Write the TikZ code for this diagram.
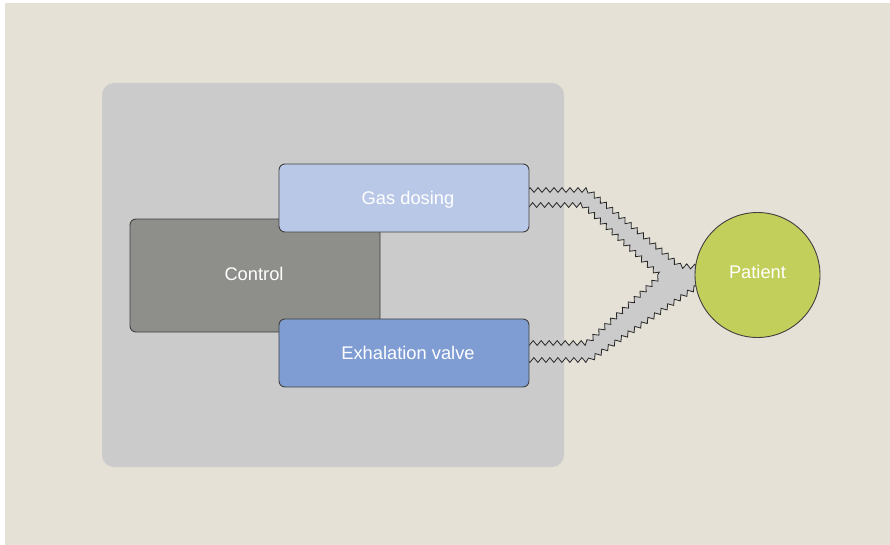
\documentclass[tikz,border=0pt]{standalone}
\usepackage{fontspec}
\setmainfont{Liberation Sans}
\usetikzlibrary{decorations.pathmorphing,calc}
\definecolor{bgbeige}{HTML}{E5E1D6}
\definecolor{contgray}{HTML}{CBCBCB}
\definecolor{ctrlgray}{HTML}{8E8E8B}
\definecolor{gasblue}{HTML}{BAC8E8}
\definecolor{exhblue}{HTML}{7F9DD3}
\definecolor{patgreen}{HTML}{C3CF5B}
\definecolor{edgegray}{HTML}{404040}
\tikzset{
  lbl/.style={text=white, font=\fontsize{18.3}{22}\selectfont, text height=13.3pt, text depth=0pt},
  unit/.style={draw=edgegray, line width=0.9pt, rounded corners=6pt, lbl,
    minimum width=250pt, inner sep=0pt},
  tube/.style={fill=contgray, draw=black!85, line width=0.8pt,
    decorate, decoration={zigzag, segment length=8pt, amplitude=2.4pt}},
}
\begin{document}
\begin{tikzpicture}[x=1pt, y=-1pt]
\useasboundingbox (0,0) rectangle (890,545);
\fill[white] (0,0) rectangle (890,545);
\fill[bgbeige] (5,3) rectangle (890,545);
\node[fill=contgray, rounded corners=12pt, minimum width=462pt, minimum height=384pt, inner sep=0pt] (cont) at (333,275) {};
\coordinate (gasc) at (404,198);
\coordinate (exhc) at (404,353);
\coordinate (patc) at (757.5,275);
\coordinate (gase) at (529,198);
\coordinate (exhe) at (529,353);
\coordinate (patw) at (695,275);
% tubes
\filldraw[tube]
  ($(gase)+(-9,-8)$) -- ($(gase)+(59,-8)$) -- ($(patw)+(-15,-9)$) -- ($(patw)+(10,-8)$)
  -- ($(patw)+(10,6)$) -- ($(exhe)+(61,7)$) -- ($(exhe)+(-9,7)$)
  -- ($(exhe)+(-9,-10)$) -- ($(exhe)+(58,-10)$) -- ($(patw)+(-35,1)$)
  -- ($(gase)+(54,7)$) -- ($(gase)+(-9,7)$) -- cycle;
\node[unit, fill=ctrlgray, minimum height=113pt, text depth=4pt] (ctrl) at (255,275.5) {\hspace*{-2pt}Control};
\node[unit, fill=gasblue, minimum height=68pt, text depth=-2pt] (gas) at (gasc) {\hspace*{8pt}Gas dosing};
\node[unit, fill=exhblue, minimum height=68pt] (exh) at (exhc) {\hspace*{8pt}Exhalation valve};
\node[circle, draw=edgegray, line width=0.9pt, fill=patgreen, minimum size=125pt, inner sep=0pt, lbl, text depth=6pt] (pat) at (patc) {Patient};
\end{tikzpicture}
\end{document}
